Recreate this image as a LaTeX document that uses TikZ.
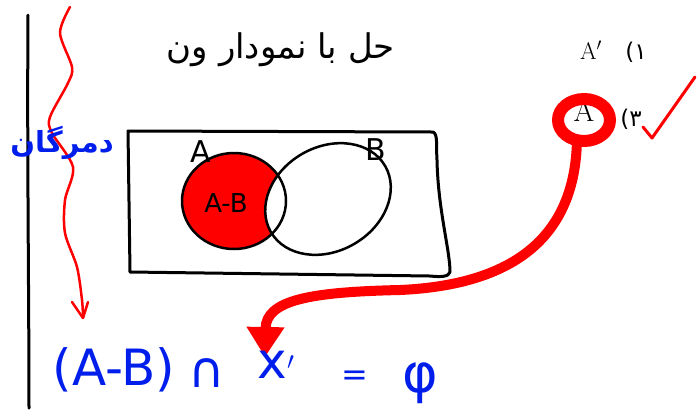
\documentclass[tikz,border=0pt]{standalone}
\usepackage{fontspec}
\usetikzlibrary{arrows.meta}
\TeXXeTstate=1
\newfontfamily\arabicfont[Script=Arabic]{DejaVu Sans}
\newfontfamily\dvs{DejaVu Sans}
\definecolor{penred}{RGB}{255,0,0}
\definecolor{penblue}{RGB}{0,30,235}
\tikzset{
  pen/.style={line width=3pt,line cap=round,line join=round},
  redpen/.style={draw=penred,line width=2.5pt,line cap=round,line join=round},
  bluetxt/.style={text=penblue,inner sep=0pt,font=\dvs\fontsize{50}{52}\selectfont},
  blacklabel/.style={inner sep=0pt,font=\dvs\fontsize{30}{32}\selectfont},
  printed/.style={inner sep=0pt,font=\fontsize{24}{28}\selectfont},
  digit/.style={inner sep=0pt,font=\dvs\fontsize{23}{25}\selectfont},
}
\begin{document}
\begin{tikzpicture}[x=1pt,y=-1pt]
\useasboundingbox (0,0) rectangle (700,416);
% left vertical line
\draw[pen] (28,15) .. controls (27,150) and (29,300) .. (29,408);
% red wavy line with open arrowhead
\draw[redpen] plot[smooth] coordinates {(70,7) (60,33) (72,67) (68,83) (50,117) (52,133) (73,167) (65,200) (65,233) (77,267) (82,300) (83,317)};
\draw[redpen] (72,302) -- (83,318) -- (88,302);
% title
\node[inner sep=0pt,font=\arabicfont\fontsize{34}{36}\selectfont] (title) at (281,50) {\beginR حل با نمودار ون\endR};
% de morgan
\node[inner sep=0pt,text=penblue,font=\arabicfont\bfseries\fontsize{29}{31}\selectfont] (demorgan) at (62,143) {\beginR دمرگان\endR};
% universe rectangle
\draw[pen] (128,131) -- (433,132) .. controls (438,134) and (436,145) .. (437,160) .. controls (438,210) and (450,250) .. (450,272) .. controls (449,277) and (440,277) .. (430,276) -- (130,272) -- cycle;
% Venn
\fill[penred] (234,201) ellipse [x radius=52,y radius=48];
\fill[white] (328,199) ellipse [x radius=66,y radius=52,rotate=30];
\draw[pen,line width=2.5pt] (234,201) ellipse [x radius=52,y radius=48];
\draw[pen,line width=2.5pt] (328,199) ellipse [x radius=66,y radius=52,rotate=30];
\node[blacklabel] (labA) at (201,152) {A};
\node[blacklabel] (labB) at (376,150) {B};
\node[blacklabel,font=\dvs\fontsize{26}{28}\selectfont] (labAB) at (226,203) {A-B};
% options at right
\node[printed] (Ap) at (591,50) {A$'$};
\node[digit] (o1) at (636,52) {(۱};
\node[printed,font=\fontsize{30}{32}\selectfont] (A3) at (584,111) {A};
\node[digit] (o3) at (631,119) {(۳};
\draw[redpen,line width=3pt] (643,127) -- (652,138) -- (695,77);
% red ring and arrow
\draw[penred,line width=12pt] (584,120) ellipse [x radius=26,y radius=21];
\coordinate (ringbottom) at (577,138);
\coordinate (tip) at (265,357);
\draw[penred,line width=10pt,-{Triangle[length=30pt,width=36pt]}] (ringbottom) .. controls (576,240) and (510,285) .. (400,290) .. controls (310,292) and (266,300) .. (tip);
% formula
\node[bluetxt] (f1) at (114,370) {(A-B)};
\node[bluetxt] (f2) at (207,373) {∩};
\node[bluetxt] (f3) at (276,365) {x$'$};
\node[bluetxt,font=\dvs\fontsize{32}{34}\selectfont] (f4) at (355,378) {=};
\node[bluetxt,font=\dvs\fontsize{54}{56}\selectfont] (f5) at (420,383) {φ};
\end{tikzpicture}
\end{document}
